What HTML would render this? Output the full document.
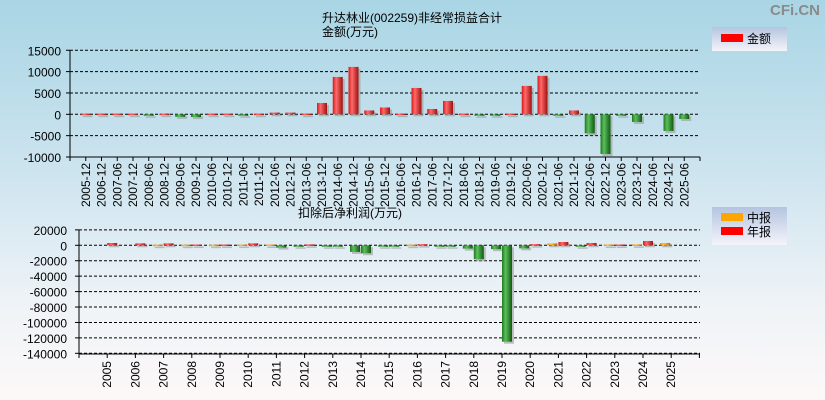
<!DOCTYPE html>
<html><head><meta charset="utf-8"><style>
html,body{margin:0;padding:0}
body{width:825px;height:400px;overflow:hidden;background:linear-gradient(#a9d5e5,#cfe5ef 45%,#eef3f7 75%,#fdf8f8);font-family:"Liberation Sans","Noto Sans CJK SC",sans-serif}
svg{position:absolute;left:0;top:0}
text{font-family:"Liberation Sans","Noto Sans CJK SC",sans-serif}
</style></head><body>
<svg id="s" width="825" height="400" xmlns="http://www.w3.org/2000/svg">
<defs>
<linearGradient id="r" x1="0" x2="1"><stop offset="0" stop-color="#d81818"/><stop offset="0.35" stop-color="#ff6a6a"/><stop offset="1" stop-color="#a01010"/></linearGradient>
<linearGradient id="g" x1="0" x2="1"><stop offset="0" stop-color="#1e7a1e"/><stop offset="0.35" stop-color="#5cbf5c"/><stop offset="1" stop-color="#105a10"/></linearGradient>
<linearGradient id="o" x1="0" x2="1"><stop offset="0" stop-color="#e09000"/><stop offset="0.35" stop-color="#ffc040"/><stop offset="1" stop-color="#b07000"/></linearGradient>
<linearGradient id="lg" x1="0" y1="0" x2="0" y2="1"><stop offset="0" stop-color="#b4c4e0"/><stop offset="1" stop-color="#f4f4fa"/></linearGradient>
</defs>
<text x="795" y="15" font-size="15" font-weight="bold" fill="#8a8a8a" text-anchor="middle">CFi.CN</text>
<text x="412" y="22" font-size="12" text-anchor="middle">升达林业(002259)非经常损益合计</text>
<text x="322" y="36" font-size="12">金额(万元)</text>
<text x="298" y="217" font-size="12">扣除后净利润(万元)</text>
<rect x="712" y="27" width="75" height="24" fill="url(#lg)"/>
<rect x="721" y="34" width="22" height="8" fill="#f00"/>
<text x="747" y="43" font-size="12">金额</text>
<rect x="712" y="207" width="75" height="38" fill="url(#lg)"/>
<rect x="721" y="213" width="22" height="8" fill="#ffa500"/>
<text x="747" y="222" font-size="12">中报</text>
<rect x="721" y="227" width="22" height="8" fill="#f00"/>
<text x="747" y="236" font-size="12">年报</text>
<g id="c"></g>
</svg>
<script>
var c=document.getElementById('c'),h='';
function L(x1,y1,x2,y2,d){h+='<line x1="'+x1+'" y1="'+y1+'" x2="'+x2+'" y2="'+y2+'" stroke="#000" stroke-width="1"'+(d?' stroke-dasharray="3,2"':'')+'/>';}
function T(x,y,s,a,rot){h+='<text x="'+x+'" y="'+y+'" font-size="12" text-anchor="'+(a||'end')+'"'+(rot?' transform="rotate(-90 '+x+' '+y+')"':'')+'>'+s+'</text>';}
function B(x,w,y0,y1,f){var t=Math.min(y0,y1),hh=Math.max(Math.abs(y1-y0),1.5);
h+='<rect x="'+(x+2)+'" y="'+(t+2)+'" width="'+w+'" height="'+hh+'" fill="#999" opacity="0.6"/>';
h+='<rect x="'+x+'" y="'+t+'" width="'+w+'" height="'+hh+'" fill="url(#'+f+')"/>';}
// top chart
var Y0=114.3,k=21.35/5000;
[15000,10000,5000,0,-5000,-10000].forEach(function(v){var y=Y0-v*k;L(70,y,700,y,true);L(66,y,70,y);T(61,y+5,v);});
L(70,50,70,157);L(70,157,700,157);
var lab=['2005-12','2006-12','2007-06','2007-12','2008-06','2008-12','2009-06','2009-12','2010-06','2010-12','2011-06','2011-12','2012-06','2012-12','2013-06','2013-12','2014-06','2014-12','2015-06','2015-12','2016-06','2016-12','2017-06','2017-12','2018-06','2018-12','2019-06','2019-12','2020-06','2020-12','2021-06','2021-12','2022-06','2022-12','2023-06','2023-12','2024-06','2024-12','2025-06'];
var v=[150,150,150,150,-150,150,-600,-650,150,150,-150,150,400,400,150,2650,8750,11100,900,1600,150,6170,1250,3130,150,-150,-150,150,6650,9000,-300,900,-4460,-9300,-300,-1800,0,-3900,-1100];
for(var i=0;i<=40;i++){var x=70+15.75*i;L(x,157,x,161);}
lab.forEach(function(s,i){var x=70+15.75*(i+1);if(v[i])B(x-5,10,Y0,Y0-v[i]*k,v[i]>0?'r':'g');T(x+4,163,s,'end',true);});
// bottom chart
var Y1=245.3,k2=15.43/20000;
[20000,0,-20000,-40000,-60000,-80000,-100000,-120000,-140000].forEach(function(v){var y=Y1-v*k2;L(79,y,700,y,true);L(75,y,79,y);T(67,y+5,v);});
L(79,230,79,354);L(79,354,700,354);
var H=[0,0,800,800,800,1000,1000,-500,-600,-8600,-600,800,-300,-4300,-5000,-4000,2500,-500,1000,1200,3000];
var A=[3000,2500,2500,1000,1000,2500,-3000,1200,-600,-10300,-600,1500,-1500,-18000,-125000,1500,4300,3000,1000,5600,0];
for(var i=0;i<=22;i++){var x=79+28.2*i;L(x,354,x,358);}
for(var i=0;i<21;i++){var x=79+28.2*(i+1);
if(H[i])B(x-11,10,Y1,Y1-H[i]*k2,H[i]>0?'o':'g');
if(A[i])B(x,10,Y1,Y1-A[i]*k2,A[i]>0?'r':'g');
T(x+4,361,2005+i,'end',true);}
c.innerHTML=h;
</script>
</body></html>
